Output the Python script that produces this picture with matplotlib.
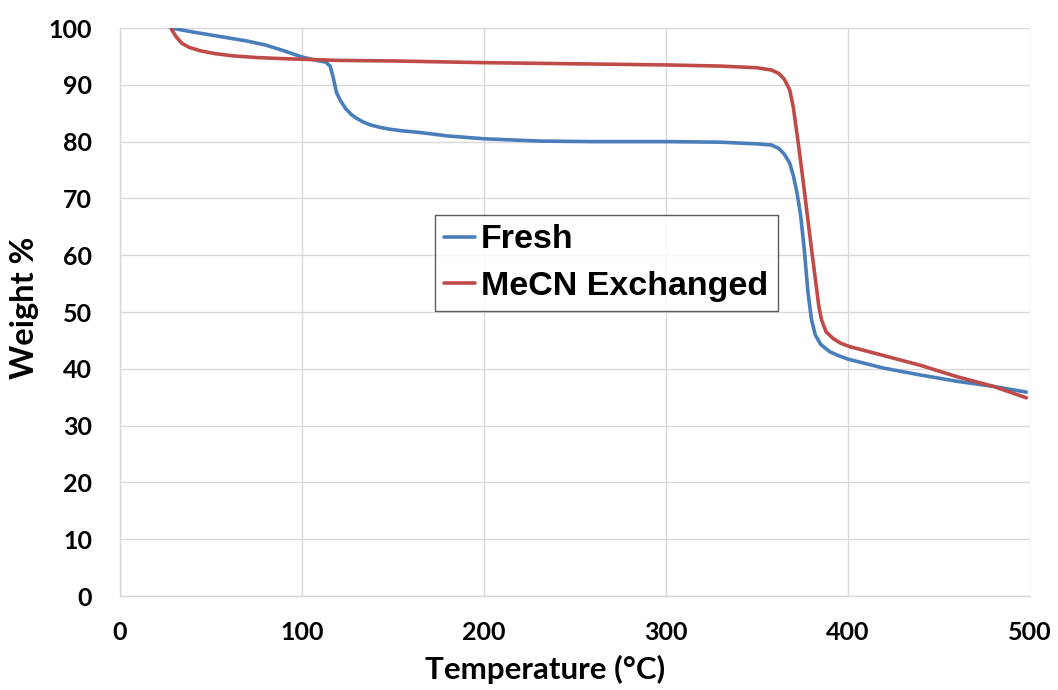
import matplotlib
matplotlib.use("Agg")
import matplotlib.pyplot as plt

fresh_T = [28, 40, 55, 70, 80, 90, 100, 108, 113, 115.5, 117, 119, 121, 124, 127, 130, 134, 138, 143, 148,
           155, 165, 180, 200, 230, 260, 300, 330, 350, 358, 362, 365, 368, 370, 372, 374, 376, 378, 380,
           382, 385, 390, 395, 400, 420, 440, 460, 480, 498]
fresh_W = [100, 99.3, 98.5, 97.7, 97.0, 96.0, 94.9, 94.3, 94.0, 93.3, 91.5, 88.6, 87.3, 85.8, 84.8, 84.1,
           83.4, 82.9, 82.5, 82.2, 81.9, 81.6, 81.0, 80.5, 80.1, 80.0, 80.0, 79.9, 79.6, 79.4, 78.8, 77.8,
           76.2, 74.0, 71.0, 67.0, 61.0, 53.5, 48.6, 46.0, 44.3, 43.0, 42.3, 41.7, 40.1, 38.9, 37.8, 36.9, 35.9]

mecn_T = [28, 29, 31, 34, 38, 44, 52, 62, 75, 90, 100, 120, 150, 200, 250, 300, 330, 350, 358, 362, 365,
          368, 370, 372.7, 375, 377.3, 380, 382, 384, 385.5, 388, 392, 396, 401, 420, 440, 460, 480, 498]
mecn_W = [100, 99.4, 98.4, 97.3, 96.6, 96.0, 95.5, 95.1, 94.8, 94.6, 94.5, 94.3, 94.2, 93.9, 93.7, 93.5,
          93.3, 93.0, 92.6, 92.0, 91.0, 89.1, 86.0, 79.7, 74.0, 68.0, 61.0, 56.0, 51.0, 48.6, 46.5, 45.3,
          44.5, 43.9, 42.3, 40.6, 38.6, 36.9, 34.9]

series_labels = ["Fresh", "MeCN Exchanged"]
x_ticks = [0, 100, 200, 300, 400, 500]
y_ticks = [0, 10, 20, 30, 40, 50, 60, 70, 80, 90, 100]

fig = plt.figure(figsize=(10.58, 6.90), dpi=100)
ax = fig.add_axes([0.1134, 0.1362, 0.8601, 0.8232])

ax.plot(fresh_T, fresh_W, color="#4A7EBB", lw=2.6, label=series_labels[0], solid_capstyle="round")
ax.plot(mecn_T, mecn_W, color="#BE4B48", lw=2.6, label=series_labels[1], solid_capstyle="round")

ax.set_xlim(0, 500)
ax.set_ylim(0, 100)
ax.set_xticks(x_ticks)
ax.set_yticks(y_ticks)
ax.grid(True, color="#D9D9D9", lw=1.0)
ax.set_axisbelow(True)
for s in ["top", "right"]:
    ax.spines[s].set_visible(False)
for s in ["left", "bottom"]:
    ax.spines[s].set_color("#D9D9D9")
    ax.spines[s].set_linewidth(1.0)
ax.tick_params(axis="y", length=0, pad=20, labelsize=18)
ax.tick_params(axis="x", length=0, pad=18, labelsize=18)
for lab in ax.get_xticklabels() + ax.get_yticklabels():
    lab.set_fontfamily("Lato")
    lab.set_fontweight("bold")

ax.set_xlabel("Temperature (°C)", fontsize=22.5, fontweight="bold", family="Lato")
ax.xaxis.set_label_coords(0.467, -0.103)
ax.set_ylabel("Weight %", fontsize=23.5, fontweight="bold", family="Lato")
ax.yaxis.set_label_coords(-0.089, 0.507)

leg = ax.legend(loc="upper left", bbox_to_anchor=(0.346, 0.671), borderaxespad=0,
                prop={"family": "Liberation Sans", "weight": "bold", "size": 24.5},
                frameon=True, fancybox=False, edgecolor="#333333", handlelength=0.9,
                handletextpad=0.18, borderpad=0.28, labelspacing=0.45)
leg.get_frame().set_linewidth(1.0)

fig.savefig("out.png", dpi=100, facecolor="white")
